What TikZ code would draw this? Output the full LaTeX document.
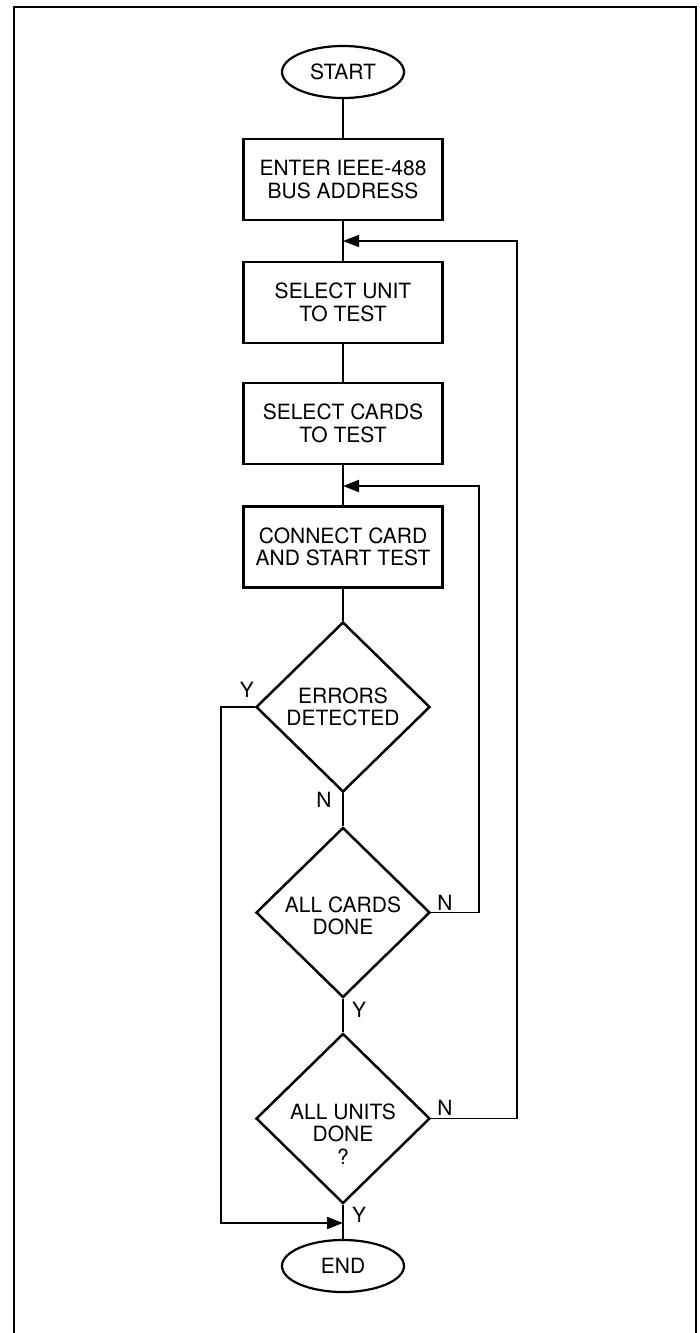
\documentclass[tikz,border=0pt]{standalone}
\usepackage{fontspec}
\setmainfont{TeX Gyre Heros}
\usetikzlibrary{shapes.geometric,arrows.meta}
\begin{document}
\begin{tikzpicture}[x=1pt,y=-1pt,
  font=\fontsize{21}{22.5}\selectfont,
  term/.style={ellipse, draw, line width=2.2pt, minimum width=122pt, minimum height=52pt, inner sep=0pt},
  procbox/.style={rectangle, draw, line width=2.2pt, minimum width=199pt, minimum height=81pt, align=center, inner sep=0pt},
  decision/.style={diamond, draw, line width=2.5pt, minimum width=174pt, minimum height=170pt, inner sep=0pt},
  dtext/.style={align=center, inner sep=0pt},
  lbl/.style={inner sep=0pt},
  conn/.style={line width=1.9pt},
  arr/.style={conn, -{Triangle[length=16pt,width=12pt]}}]
\useasboundingbox (0,0) rectangle (699,1333);
% frame
\draw[line width=1.7pt] (14,1333) -- (14,7) -- (696,7) -- (696,1333);
% nodes
\node[term] (start) at (343,72) {START};
\node[procbox] (b1) at (343,179.5) {ENTER IEEE-488\\BUS ADDRESS};
\node[procbox] (b2) at (343,302.5) {SELECT UNIT\\TO TEST};
\node[procbox] (b3) at (343,423.5) {SELECT CARDS\\TO TEST};
\node[procbox] (b4) at (343,547) {CONNECT CARD\\AND START TEST};
\node[decision] (d1) at (343,707) {};
\node[dtext] (d1t) at (343,707) {ERRORS\\DETECTED};
\node[decision] (d2) at (343,912.5) {};
\node[dtext] (d2t) at (343,916) {ALL CARDS\\DONE};
\node[decision] (d3) at (343,1118.5) {};
\node[dtext] (d3t) at (343,1134) {ALL UNITS\\DONE\\?};
\node[term] (end) at (343,1266) {END};
% labels
\node[lbl] (y1) at (247,690) {Y};
\node[lbl] (n1) at (324,800) {N};
\node[lbl] (n2) at (445,903) {N};
\node[lbl] (y2) at (359,1010) {Y};
\node[lbl] (n3) at (445,1108) {N};
\node[lbl] (y3) at (359,1215) {Y};
% junction coordinates
\coordinate (j1) at (343,241);
\coordinate (j2) at (343,486);
\coordinate (j3) at (343,1223);
\coordinate (r1) at (517,241);
\coordinate (r2) at (479,486);
\coordinate (l1) at (221,1223);
% main flow
\draw[conn] (start) -- (b1);
\draw[conn] (b1) -- (b2);
\draw[conn] (b2) -- (b3);
\draw[conn] (b3) -- (b4);
\draw[conn] (b4) -- (d1);
\draw[conn] (d1) -- (d2);
\draw[conn] (d2) -- (d3);
\draw[conn] (d3) -- (end);
% loops
\draw[arr] (d3.east) -| (r1) -- (j1);
\draw[arr] (d2.east) -| (r2) -- (j2);
\draw[arr] (d1.west) -| (l1) -- (j3);
\end{tikzpicture}
\end{document}
